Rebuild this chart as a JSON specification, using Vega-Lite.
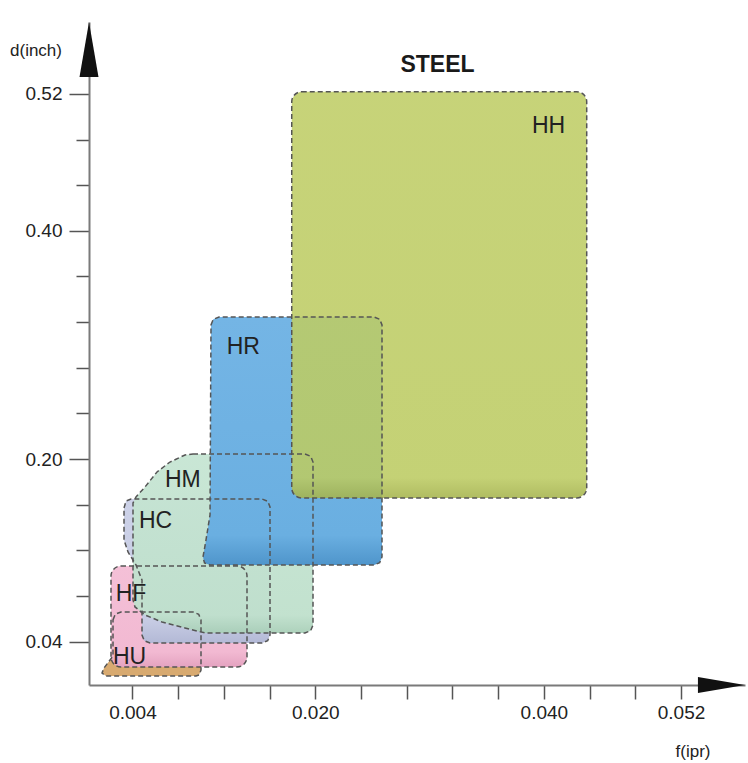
{
  "$schema": "https://vega.github.io/schema/vega-lite/v6.json",
  "width": 656,
  "height": 663,
  "autosize": {"type": "none"},
  "padding": {"left": 89, "top": 22, "right": 3, "bottom": 78},
  "background": "white",
  "config": {"view": {"stroke": null}},
  "datasets": {
    "polys": [
      {"shape": "HR", "i": 1, "f": 0.010875, "d": 0.3175},
      {"shape": "HR", "i": 2, "f": 0.011076, "d": 0.3225},
      {"shape": "HR", "i": 3, "f": 0.011575, "d": 0.3245},
      {"shape": "HR", "i": 4, "f": 0.025138, "d": 0.3245},
      {"shape": "HR", "i": 5, "f": 0.025636, "d": 0.3225},
      {"shape": "HR", "i": 6, "f": 0.025838, "d": 0.3175},
      {"shape": "HR", "i": 7, "f": 0.025838, "d": 0.1142},
      {"shape": "HR", "i": 8, "f": 0.025636, "d": 0.1092},
      {"shape": "HR", "i": 9, "f": 0.025138, "d": 0.1072},
      {"shape": "HR", "i": 10, "f": 0.010788, "d": 0.1072},
      {"shape": "HR", "i": 11, "f": 0.010306, "d": 0.1089},
      {"shape": "HR", "i": 12, "f": 0.010175, "d": 0.1142},
      {"shape": "HR", "i": 13, "f": 0.010438, "d": 0.1291},
      {"shape": "HR", "i": 14, "f": 0.010788, "d": 0.1510},
      {"shape": "HM", "i": 1, "f": 0.0093, "d": 0.2044},
      {"shape": "HM", "i": 2, "f": 0.0191, "d": 0.2044},
      {"shape": "HM", "i": 3, "f": 0.019599, "d": 0.2024},
      {"shape": "HM", "i": 4, "f": 0.0198, "d": 0.1974},
      {"shape": "HM", "i": 5, "f": 0.0198, "d": 0.0546},
      {"shape": "HM", "i": 6, "f": 0.019599, "d": 0.0496},
      {"shape": "HM", "i": 7, "f": 0.0191, "d": 0.0476},
      {"shape": "HM", "i": 8, "f": 0.01035, "d": 0.0476},
      {"shape": "HM", "i": 9, "f": 0.0086, "d": 0.0520},
      {"shape": "HM", "i": 10, "f": 0.006588, "d": 0.0572},
      {"shape": "HM", "i": 11, "f": 0.0051, "d": 0.0633},
      {"shape": "HM", "i": 12, "f": 0.004225, "d": 0.0704},
      {"shape": "HM", "i": 13, "f": 0.00405, "d": 0.0765},
      {"shape": "HM", "i": 14, "f": 0.00405, "d": 0.1615},
      {"shape": "HM", "i": 15, "f": 0.004313, "d": 0.1668},
      {"shape": "HM", "i": 16, "f": 0.0051, "d": 0.1755},
      {"shape": "HM", "i": 17, "f": 0.00615, "d": 0.1887},
      {"shape": "HM", "i": 18, "f": 0.007288, "d": 0.1974},
      {"shape": "HM", "i": 19, "f": 0.0086, "d": 0.2036},
      {"shape": "HC", "i": 1, "f": 0.003263, "d": 0.1571},
      {"shape": "HC", "i": 2, "f": 0.003438, "d": 0.1632},
      {"shape": "HC", "i": 3, "f": 0.003875, "d": 0.1650},
      {"shape": "HC", "i": 4, "f": 0.015338, "d": 0.1650},
      {"shape": "HC", "i": 5, "f": 0.015836, "d": 0.1630},
      {"shape": "HC", "i": 6, "f": 0.016038, "d": 0.1580},
      {"shape": "HC", "i": 7, "f": 0.016038, "d": 0.0458},
      {"shape": "HC", "i": 8, "f": 0.015836, "d": 0.0408},
      {"shape": "HC", "i": 9, "f": 0.015338, "d": 0.0388},
      {"shape": "HC", "i": 10, "f": 0.005538, "d": 0.0388},
      {"shape": "HC", "i": 11, "f": 0.005039, "d": 0.0408},
      {"shape": "HC", "i": 12, "f": 0.004838, "d": 0.0458},
      {"shape": "HC", "i": 13, "f": 0.004838, "d": 0.0940},
      {"shape": "HC", "i": 14, "f": 0.004313, "d": 0.1072},
      {"shape": "HC", "i": 15, "f": 0.003613, "d": 0.1186},
      {"shape": "HC", "i": 16, "f": 0.003263, "d": 0.1291},
      {"shape": "HU", "i": 1, "f": 0.0023, "d": 0.0590},
      {"shape": "HU", "i": 2, "f": 0.0025, "d": 0.0640},
      {"shape": "HU", "i": 3, "f": 0.0030, "d": 0.0660},
      {"shape": "HU", "i": 4, "f": 0.0093, "d": 0.0660},
      {"shape": "HU", "i": 5, "f": 0.009799, "d": 0.0640},
      {"shape": "HU", "i": 6, "f": 0.0100, "d": 0.0590},
      {"shape": "HU", "i": 7, "f": 0.0100, "d": 0.0151},
      {"shape": "HU", "i": 8, "f": 0.009825, "d": 0.0108},
      {"shape": "HU", "i": 9, "f": 0.009563, "d": 0.0099},
      {"shape": "HU", "i": 10, "f": 0.001688, "d": 0.0099},
      {"shape": "HU", "i": 11, "f": 0.001338, "d": 0.0125},
      {"shape": "HU", "i": 12, "f": 0.001513, "d": 0.0169},
      {"shape": "HU", "i": 13, "f": 0.0023, "d": 0.0274}
    ],
    "rects": [
      {"shape": "HH", "f": 0.01794, "f2": 0.04375, "d": 0.1659, "d2": 0.5219},
      {"shape": "HF", "f": 0.002125, "f2": 0.014025, "d": 0.01777, "d2": 0.1063}
    ],
    "labels": [
      {"label": "HH", "f": 0.03896, "d": 0.4919},
      {"label": "HR", "f": 0.01225, "d": 0.2982},
      {"label": "HM", "f": 0.00685, "d": 0.1817},
      {"label": "HC", "f": 0.004575, "d": 0.1457},
      {"label": "HF", "f": 0.002536, "d": 0.0817},
      {"label": "HU", "f": 0.0023, "d": 0.0265}
    ],
    "heading": [
      {"label": "STEEL", "f": 0.03069, "d": 0.5453}
    ],
    "arrows": [
      {"arrow": "y", "f": 0.0002, "d": 0.5589},
      {"arrow": "x", "f": 0.05554, "d": 0.002}
    ]
  },
  "encoding": {
    "x": {
      "field": "f",
      "type": "quantitative",
      "scale": {"domain": [0.0002, 0.0576], "nice": false, "zero": false},
      "axis": {
        "values": [0.004, 0.008, 0.012, 0.016, 0.02, 0.024, 0.028, 0.032, 0.036, 0.04, 0.044, 0.048, 0.052],
        "labelExpr": "(datum.value == 0.004 || datum.value == 0.02 || datum.value == 0.04 || datum.value == 0.052) ? format(datum.value, '.3f') : ''",
        "grid": false,
        "domainColor": "#7a7a7a",
        "domainWidth": 2,
        "tickColor": "#555555",
        "tickWidth": 1.5,
        "tickSize": 14,
        "labelPadding": 4,
        "labelFont": "Liberation Sans",
        "labelFontSize": 19,
        "labelColor": "#222222",
        "labelOverlap": false,
        "labelFlush": false,
        "labelBound": false,
        "title": "f(ipr)",
        "titleX": 603.5,
        "titleY": 66,
        "titleAlign": "center",
        "titleBaseline": "middle",
        "titleFont": "Liberation Sans",
        "titleFontSize": 17,
        "titleFontWeight": "normal",
        "titleColor": "#222222"
      }
    },
    "y": {
      "field": "d",
      "type": "quantitative",
      "scale": {"domain": [0.002, 0.583], "nice": false, "zero": false},
      "axis": {
        "values": [0.04, 0.08, 0.12, 0.16, 0.2, 0.24, 0.28, 0.32, 0.36, 0.4, 0.44, 0.48, 0.52],
        "labelExpr": "(datum.value == 0.04 || datum.value == 0.2 || datum.value == 0.4 || datum.value == 0.52) ? format(datum.value, '.2f') : ''",
        "grid": false,
        "domainColor": "#7a7a7a",
        "domainWidth": 2,
        "tickColor": "#555555",
        "tickWidth": 1.5,
        "tickSize": {"condition": {"test": "datum.value == 0.04 || datum.value == 0.2 || datum.value == 0.4 || datum.value == 0.52", "value": 20}, "value": 13},
        "labelPadding": 7,
        "labelFont": "Liberation Sans",
        "labelFontSize": 19,
        "labelColor": "#222222",
        "labelOverlap": false,
        "labelFlush": false,
        "labelBound": false,
        "title": "d(inch)",
        "titleAngle": 0,
        "titleX": -53.5,
        "titleY": 28,
        "titleAlign": "center",
        "titleBaseline": "middle",
        "titleFont": "Liberation Sans",
        "titleFontSize": 17,
        "titleFontWeight": "normal",
        "titleColor": "#222222"
      }
    }
  },
  "layer": [
    {
      "data": {"name": "polys"},
      "transform": [{"filter": "datum.shape === 'HU'"}],
      "mark": {"type": "line", "interpolate": "linear-closed", "fill": "#d8aa70", "strokeWidth": 0},
      "encoding": {"order": {"field": "i", "type": "quantitative"}}
    },
    {
      "data": {"name": "rects"},
      "transform": [{"filter": "datum.shape === 'HF'"}],
      "mark": {"type": "rect", "cornerRadius": 10, "strokeWidth": 0,
        "fill": {"gradient": "linear", "x1": 0, "y1": 0, "x2": 0, "y2": 1, "stops": [{"offset": 0, "color": "#f4c0d7"}, {"offset": 0.85, "color": "#f2b9d2"}, {"offset": 1, "color": "#e4a3c0"}]}},
      "encoding": {"x2": {"field": "f2"}, "y2": {"field": "d2"}}
    },
    {
      "data": {"name": "polys"},
      "transform": [{"filter": "datum.shape === 'HC'"}],
      "mark": {"type": "line", "interpolate": "linear-closed", "strokeWidth": 0,
        "fill": {"gradient": "linear", "x1": 0, "y1": 0, "x2": 0, "y2": 1, "stops": [{"offset": 0, "color": "#cdd2e8"}, {"offset": 0.85, "color": "#c6cbe3"}, {"offset": 1, "color": "#b3b9d6"}]}},
      "encoding": {"order": {"field": "i", "type": "quantitative"}}
    },
    {
      "data": {"name": "polys"},
      "transform": [{"filter": "datum.shape === 'HM'"}],
      "mark": {"type": "line", "interpolate": "linear-closed", "fillOpacity": 0.95, "strokeWidth": 0,
        "fill": {"gradient": "linear", "x1": 0, "y1": 0, "x2": 0, "y2": 1, "stops": [{"offset": 0, "color": "#c6e5d3"}, {"offset": 0.9, "color": "#bfe0cc"}, {"offset": 1, "color": "#a9cfb8"}]}},
      "encoding": {"order": {"field": "i", "type": "quantitative"}}
    },
    {
      "data": {"name": "polys"},
      "transform": [{"filter": "datum.shape === 'HR'"}],
      "mark": {"type": "line", "interpolate": "linear-closed", "strokeWidth": 0,
        "fill": {"gradient": "linear", "x1": 0, "y1": 0, "x2": 0, "y2": 1, "stops": [{"offset": 0, "color": "#74b5e5"}, {"offset": 0.88, "color": "#6aafe1"}, {"offset": 1, "color": "#4f95cb"}]}},
      "encoding": {"order": {"field": "i", "type": "quantitative"}}
    },
    {
      "data": {"name": "rects"},
      "transform": [{"filter": "datum.shape === 'HH'"}],
      "mark": {"type": "rect", "fillOpacity": 0.88, "cornerRadius": 11, "strokeWidth": 0,
        "fill": {"gradient": "linear", "x1": 0, "y1": 0, "x2": 0, "y2": 1, "stops": [{"offset": 0, "color": "#bfcd66"}, {"offset": 0.95, "color": "#bccb62"}, {"offset": 1, "color": "#a5b34c"}]}},
      "encoding": {"x2": {"field": "f2"}, "y2": {"field": "d2"}}
    },
    {
      "data": {"name": "polys"},
      "mark": {"type": "line", "interpolate": "linear-closed", "stroke": "#555555", "strokeWidth": 1.5, "strokeDash": [5, 3]},
      "encoding": {
        "order": {"field": "i", "type": "quantitative"},
        "detail": {"field": "shape", "type": "nominal"}
      }
    },
    {
      "data": {"name": "rects"},
      "mark": {"type": "rect", "filled": false, "fill": null, "stroke": "#555555", "strokeWidth": 1.5, "strokeDash": [5, 3], "cornerRadius": 10},
      "encoding": {"x2": {"field": "f2"}, "y2": {"field": "d2"}}
    },
    {
      "data": {"name": "labels"},
      "mark": {"type": "text", "align": "left", "baseline": "middle", "font": "Liberation Sans", "fontSize": 23, "color": "#222222"},
      "encoding": {"text": {"field": "label", "type": "nominal"}}
    },
    {
      "data": {"name": "heading"},
      "mark": {"type": "text", "align": "center", "baseline": "middle", "font": "Liberation Sans", "fontSize": 23, "fontWeight": "bold", "color": "#1a1a1a"},
      "encoding": {"text": {"field": "label", "type": "nominal"}}
    },
    {
      "data": {"name": "arrows"},
      "transform": [{"filter": "datum.arrow === 'y'"}],
      "mark": {"type": "point", "filled": true, "color": "#111111", "opacity": 1, "strokeWidth": 0, "size": 3025, "shape": "M0,-1L0.345,1L-0.345,1Z"}
    },
    {
      "data": {"name": "arrows"},
      "transform": [{"filter": "datum.arrow === 'x'"}],
      "mark": {"type": "point", "filled": true, "color": "#111111", "opacity": 1, "strokeWidth": 0, "size": 2209, "shape": "M1,0L-1,0.34L-1,-0.34Z"}
    }
  ]
}
